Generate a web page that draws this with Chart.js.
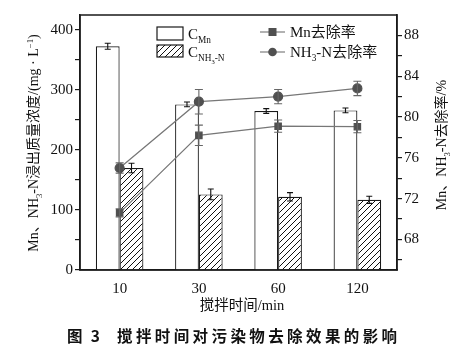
<!DOCTYPE html>
<html>
<head>
<meta charset="utf-8">
<script src="https://cdn.jsdelivr.net/npm/chart.js@4.4.1/dist/chart.umd.min.js"></script>
<style>
  html, body { margin: 0; padding: 0; background: #fff; }
  #c { display: block; }
</style>
</head>
<body>
<canvas id="c" width="470" height="352"></canvas>
<script>
// 数据
const categories = ['10', '30', '60', '120'];
const mnConc = [373, 276, 265, 266];
const mnConcErr = [5, 4, 4, 4];
const nhConc = [170, 126, 122, 117];
const nhConcErr = [8, 9, 7, 6];
const mnRate = [70.6, 78.2, 79.1, 79.05];
const mnRateErr = [0.4, 1.0, 0.6, 0.6];
const nhRate = [75.0, 81.5, 82.0, 82.8];
const nhRateErr = [0.5, 1.2, 0.7, 0.7];
const leftTicks = [0, 50, 100, 150, 200, 250, 300, 350, 400];
const rightTicks = [66, 68, 70, 72, 74, 76, 78, 80, 82, 84, 86, 88];

const SERIF = "'Liberation Serif', 'Noto Sans CJK SC', serif";
const INK = '#1a1a1a';

// 斜线填充
function hatch() {
  const p = document.createElement('canvas');
  p.width = 6; p.height = 6;
  const g = p.getContext('2d');
  g.fillStyle = '#fff';
  g.fillRect(0, 0, 6, 6);
  g.strokeStyle = '#111';
  g.lineWidth = 1;
  g.beginPath();
  g.moveTo(0, 6); g.lineTo(6, 0);
  g.moveTo(-1, 1); g.lineTo(1, -1);
  g.moveTo(5, 7); g.lineTo(7, 5);
  g.stroke();
  return g.createPattern(p, 'repeat');
}
const hatchFill = hatch();

// 带上下标的文字: [文本, 0普通 1下标 2上标]
function richParts(ctx, parts, size) {
  let w = 0;
  const out = parts.map(([t, m]) => {
    const s = m ? size * 0.62 : size;
    ctx.font = s + 'px ' + SERIF;
    const tw = ctx.measureText(t).width;
    const item = { t, s, x: w, dy: m === 1 ? size * 0.28 : (m === 2 ? -size * 0.38 : 0) };
    w += tw;
    return item;
  });
  return { out, w };
}
function drawRich(ctx, parts, size, x, y, align) {
  const r = richParts(ctx, parts, size);
  const x0 = align === 'center' ? x - r.w / 2 : x;
  ctx.textBaseline = 'alphabetic';
  ctx.textAlign = 'left';
  r.out.forEach(it => {
    ctx.font = it.s + 'px ' + SERIF;
    ctx.fillText(it.t, x0 + it.x, y + it.dy);
  });
}

const decor = {
  id: 'decor',
  afterDatasetsDraw(chart) {
    const ctx = chart.ctx;
    const yl = chart.scales.y, yr = chart.scales.y1;
    ctx.save();
    // 误差棒
    const errSets = [
      [0, mnConc, mnConcErr, yl, '#111', 3],
      [1, nhConc, nhConcErr, yl, '#111', 3],
      [2, mnRate, mnRateErr, yr, '#666', 4],
      [3, nhRate, nhRateErr, yr, '#666', 4]
    ];
    errSets.forEach(([di, vals, errs, sc, col, cap]) => {
      const meta = chart.getDatasetMeta(di);
      ctx.strokeStyle = col;
      ctx.lineWidth = 1.1;
      meta.data.forEach((el, i) => {
        const x = el.x;
        const yt = sc.getPixelForValue(vals[i] + errs[i]);
        const yb = sc.getPixelForValue(vals[i] - errs[i]);
        ctx.beginPath();
        ctx.moveTo(x, yt); ctx.lineTo(x, yb);
        ctx.moveTo(x - cap, yt); ctx.lineTo(x + cap, yt);
        ctx.moveTo(x - cap, yb); ctx.lineTo(x + cap, yb);
        ctx.stroke();
      });
    });
    ctx.restore();
  },
  afterDraw(chart) {
    const ctx = chart.ctx;
    const a = chart.chartArea;
    ctx.save();
    ctx.strokeStyle = INK;
    ctx.lineWidth = 1.5;
    ctx.strokeRect(a.left, a.top, a.right - a.left, a.bottom - a.top);

    // 图例 (柱)
    ctx.lineWidth = 1.2;
    ctx.fillStyle = '#fff';
    ctx.fillRect(157, 27, 26, 13);
    ctx.strokeRect(157, 27, 26, 13);
    ctx.fillStyle = hatchFill;
    ctx.fillRect(157, 45, 26, 12);
    ctx.strokeRect(157, 45, 26, 12);
    ctx.fillStyle = '#111';
    drawRich(ctx, [['C', 0], ['Mn', 1]], 15, 188, 39);
    drawRich(ctx, [['C', 0], ['NH', 1]], 15, 188, 57);
    const r1 = richParts(ctx, [['C', 0], ['NH', 1]], 15);
    ctx.font = '6.5px ' + SERIF;
    ctx.fillText('3', 188 + r1.w, 64);
    const w3 = ctx.measureText('3').width;
    drawRich(ctx, [['-N', 1]], 15, 188 + r1.w + w3, 57);

    // 图例 (线)
    ctx.strokeStyle = '#666';
    ctx.lineWidth = 1.2;
    ctx.beginPath();
    ctx.moveTo(260, 32); ctx.lineTo(285, 32);
    ctx.moveTo(260, 52); ctx.lineTo(285, 52);
    ctx.stroke();
    ctx.fillStyle = '#505050';
    ctx.fillRect(268.5, 28, 8, 8);
    ctx.beginPath();
    ctx.arc(272.5, 52, 4.3, 0, Math.PI * 2);
    ctx.fill();
    ctx.fillStyle = '#111';
    drawRich(ctx, [['Mn去除率', 0]], 15, 290, 37);
    drawRich(ctx, [['NH', 0], ['3', 1], ['-N去除率', 0]], 15, 290, 57);

    // 坐标轴标题
    const leftTitle = [['Mn、NH', 0], ['3', 1], ['-N浸出质量浓度/(mg · L', 0], ['−1', 2], [')', 0]];
    ctx.save();
    ctx.translate(38, 143);
    ctx.rotate(-Math.PI / 2);
    drawRich(ctx, leftTitle, 14, 0, 0, 'center');
    ctx.restore();

    const rightTitle = [['Mn、NH', 0], ['3', 1], ['-N去除率/%', 0]];
    ctx.save();
    ctx.translate(446, 145);
    ctx.rotate(-Math.PI / 2);
    drawRich(ctx, rightTitle, 14, 0, 0, 'center');
    ctx.restore();

    drawRich(ctx, [['搅拌时间/min', 0]], 14.5, 242, 310, 'center');

    // 图题
    ctx.font = "bold 15.5px 'Noto Sans CJK SC', sans-serif";
    ctx.textAlign = 'left';
    ctx.textBaseline = 'alphabetic';
    ctx.letterSpacing = '2.4px';
    ctx.fillText('图 3', 67, 342);
    ctx.letterSpacing = '3.4px';
    ctx.fillText('搅拌时间对污染物去除效果的影响', 117, 342);
    ctx.restore();
  }
};

const ctx = document.getElementById('c').getContext('2d');
new Chart(ctx, {
  data: {
    labels: categories,
    datasets: [
      {
        type: 'bar', label: 'C_Mn', data: mnConc, yAxisID: 'y',
        backgroundColor: '#fff', borderColor: INK, borderWidth: 1.2,
        categoryPercentage: 0.6, barPercentage: 1.0, order: 2
      },
      {
        type: 'bar', label: 'C_NH3-N', data: nhConc, yAxisID: 'y',
        backgroundColor: hatchFill, borderColor: INK, borderWidth: 1.2,
        categoryPercentage: 0.6, barPercentage: 1.0, order: 2
      },
      {
        type: 'line', label: 'Mn去除率', data: mnRate, yAxisID: 'y1',
        borderColor: '#777', borderWidth: 1.2, pointStyle: 'rect', pointRadius: 4.5,
        pointBackgroundColor: '#505050', pointBorderColor: '#505050', order: 1
      },
      {
        type: 'line', label: 'NH3-N去除率', data: nhRate, yAxisID: 'y1',
        borderColor: '#777', borderWidth: 1.2, pointStyle: 'circle', pointRadius: 4.5,
        pointBackgroundColor: '#505050', pointBorderColor: '#505050', order: 1
      }
    ]
  },
  options: {
    responsive: false,
    devicePixelRatio: 1,
    animation: false,
    layout: { padding: { top: 15, left: 0, right: 0, bottom: 0 } },
    plugins: { legend: { display: false }, tooltip: { enabled: false } },
    scales: {
      x: {
        afterFit: s => { s.height = 82; },
        grid: { display: false },
        border: { color: INK, width: 1.5 },
        ticks: { color: '#111', font: { family: SERIF, size: 15 }, padding: 2 }
      },
      y: {
        position: 'left', min: 0, max: 425,
        afterFit: s => { s.width = 80; },
        afterBuildTicks: s => { s.ticks = leftTicks.map(v => ({ value: v })); },
        grid: { drawOnChartArea: false, tickLength: 5, color: INK, lineWidth: 1.2 },
        border: { color: INK, width: 1.5 },
        ticks: {
          color: '#111', font: { family: SERIF, size: 15 }, padding: 2,
          callback: v => (v % 100 === 0 ? v : '')
        }
      },
      y1: {
        position: 'right', min: 65, max: 90,
        afterFit: s => { s.width = 73; },
        afterBuildTicks: s => { s.ticks = rightTicks.map(v => ({ value: v })); },
        grid: { drawOnChartArea: false, tickLength: 5, color: INK, lineWidth: 1.2 },
        border: { color: INK, width: 1.5 },
        ticks: {
          color: '#111', font: { family: SERIF, size: 15 }, padding: 2,
          callback: v => (v % 4 === 0 ? v : '')
        }
      }
    }
  },
  plugins: [decor]
});
</script>
</body>
</html>
